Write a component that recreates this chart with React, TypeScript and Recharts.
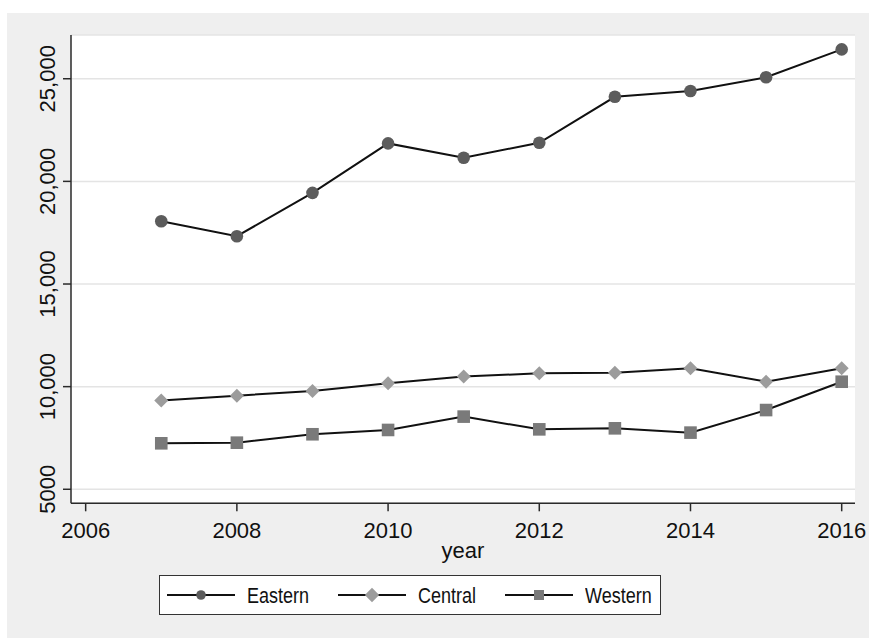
import React from 'react'
import { LineChart, Line, XAxis, YAxis, CartesianGrid } from 'recharts'

// ─── Data ─────────────────────────────────────────────────────────────────────
const years   = [2007, 2008, 2009, 2010, 2011, 2012, 2013, 2014, 2015, 2016]
const eastern = [18060, 17330, 19440, 21850, 21150, 21880, 24120, 24400, 25070, 26430]
const central = [9320, 9560, 9790, 10170, 10490, 10650, 10680, 10900, 10240, 10900]
const western = [7240, 7270, 7680, 7890, 8540, 7920, 7970, 7760, 8860, 10240]

const xTicks = [2006, 2008, 2010, 2012, 2014, 2016]
const yTicks = [5000, 10000, 15000, 20000, 25000]

const data = years.map((year, i) => ({
  year,
  Eastern: eastern[i],
  Central: central[i],
  Western: western[i],
}))

// ─── Styles ───────────────────────────────────────────────────────────────────
const FONT = "'Liberation Sans', Arial, Helvetica, sans-serif"
const INK  = '#111'
const AXIS = '#2a2a2a'

const fmtY = (v: number) => (v >= 10000 ? v.toLocaleString('en-US') : String(v))

// ─── Markers ──────────────────────────────────────────────────────────────────
const Circle = ({ cx, cy, r = 6.3 }: { cx: number; cy: number; r?: number }) => (
  <circle cx={cx} cy={cy} r={r} fill="#5c5c5c" />
)
const Diamond = ({ cx, cy, s = 7 }: { cx: number; cy: number; s?: number }) => (
  <path d={`M${cx},${cy - s} L${cx + s},${cy} L${cx},${cy + s} L${cx - s},${cy} Z`} fill="#9c9c9c" />
)
const Square = ({ cx, cy, s = 6.3 }: { cx: number; cy: number; s?: number }) => (
  <rect x={cx - s} y={cy - s} width={s * 2} height={s * 2} fill="#7a7a7a" />
)

const series = [
  { key: 'Eastern', Marker: Circle,  legendSize: 4.8 },
  { key: 'Central', Marker: Diamond, legendSize: 7.2 },
  { key: 'Western', Marker: Square,  legendSize: 5 },
]

const markerProps = (m: any, size: number) =>
  m === Circle ? { r: size } : { s: size }

// rotated y tick labels, Stata style
const YTick = ({ x, y, payload }: any) => (
  <g transform={`translate(${x},${y}) rotate(-90)`}>
    <text x={0} y={0} textAnchor="middle" fontSize={22} fill={INK} fontFamily={FONT}>
      {fmtY(payload.value)}
    </text>
  </g>
)

function Legend() {
  return (
    <div
      style={{
        position: 'absolute', left: 152, top: 562, width: 502, height: 40,
        boxSizing: 'border-box', border: '1px solid #333', background: '#fff',
        display: 'flex', alignItems: 'center', paddingLeft: 7,
      }}
    >
      {series.map(({ key, Marker, legendSize }) => (
        <div key={key} style={{ display: 'flex', alignItems: 'center', marginRight: 29 }}>
          <svg width={68} height={20} style={{ display: 'block' }}>
            <line x1={0} y1={10} x2={68} y2={10} stroke={INK} strokeWidth={1.8} />
            <Marker cx={34} cy={10} {...markerProps(Marker, legendSize)} />
          </svg>
          <span
            style={{
              marginLeft: 12, fontSize: 18, fontFamily: FONT, color: INK, lineHeight: '20px',
              display: 'inline-block', transform: 'scaleY(1.22)', marginTop: 2,
            }}
          >
            {key}
          </span>
        </div>
      ))}
    </div>
  )
}

export default function App() {
  return (
    <div style={{ position: 'absolute', left: 7, top: 13, width: 862, height: 625, background: '#efefef' }}>
      <LineChart width={862} height={624} data={data} margin={{ top: 22, right: 14, bottom: 73.7, left: 0 }}>
        <CartesianGrid vertical={false} stroke="#e4e4e4" strokeWidth={1.5} fill="#fff" />
        <XAxis
          dataKey="year"
          type="number"
          domain={[2005.806, 2016.176]}
          ticks={xTicks}
          allowDataOverflow
          height={60}
          tickSize={8}
          tickMargin={11}
          stroke={AXIS}
          strokeWidth={1.5}
          tick={{ fontSize: 22, fill: INK, fontFamily: FONT }}
          label={{ value: 'year', position: 'insideBottom', offset: 5, fontSize: 22, fill: INK, fontFamily: FONT }}
        />
        <YAxis
          type="number"
          domain={[4317, 27131]}
          ticks={yTicks}
          allowDataOverflow
          width={64}
          tickSize={8}
          tickMargin={8}
          stroke={AXIS}
          strokeWidth={1.5}
          tick={<YTick />}
        />
        {series.map(({ key, Marker }) => (
          <Line
            key={key}
            type="linear"
            dataKey={key}
            stroke={INK}
            strokeWidth={2}
            isAnimationActive={false}
            activeDot={false}
            dot={(p: any) => <Marker key={`${key}-${p.index}`} cx={p.cx} cy={p.cy} />}
          />
        ))}
      </LineChart>
      <Legend />
    </div>
  )
}
